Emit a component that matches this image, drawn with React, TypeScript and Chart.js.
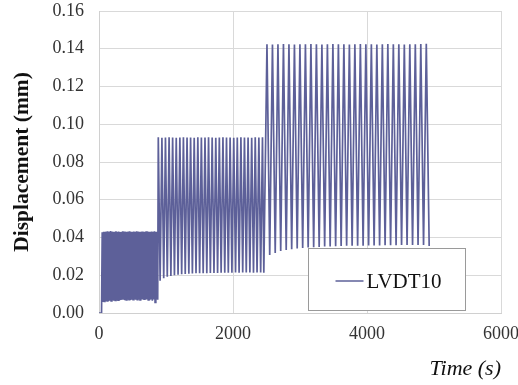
import React, { useEffect, useRef } from "react";
import { Chart, registerables } from "chart.js";

Chart.register(...registerables);

// Start of record (flat at zero before loading)
const startTimes = [0, 38];
const startValues = [0, 0];

// Stage 1 (small amplitude, dense cycles)
const stage1PeakTimes = [48, 69, 89, 110, 130, 151, 171, 192, 212, 233, 253, 274, 294, 315, 335, 356, 376, 397, 417, 438, 458, 479, 499, 520, 540, 561, 581, 602, 622, 643, 663, 684, 704, 725, 745, 766, 786, 807, 827, 848, 868];
const stage1Peaks = [0.0428, 0.0431, 0.043, 0.0432, 0.0433, 0.0431, 0.0434, 0.0432, 0.043, 0.0431, 0.0433, 0.043, 0.0432, 0.0429, 0.0431, 0.0433, 0.0432, 0.043, 0.0431, 0.0432, 0.0433, 0.0431, 0.043, 0.0432, 0.0431, 0.0433, 0.0432, 0.043, 0.0431, 0.0432, 0.043, 0.0431, 0.0433, 0.0432, 0.0431, 0.043, 0.0432, 0.0431, 0.0433, 0.0431, 0.043];
const stage1TroughTimes = [58, 79, 99, 120, 140, 161, 181, 202, 222, 243, 263, 284, 304, 325, 345, 366, 386, 407, 427, 448, 468, 489, 509, 530, 550, 571, 591, 612, 632, 653, 673, 694, 714, 735, 755, 776, 796, 817, 837, 858, 876];
const stage1Troughs = [0.0058, 0.0062, 0.0063, 0.0064, 0.0062, 0.0065, 0.0064, 0.0066, 0.0065, 0.0067, 0.0066, 0.0068, 0.0066, 0.0069, 0.0075, 0.007, 0.0068, 0.0069, 0.007, 0.0071, 0.0069, 0.007, 0.0071, 0.0072, 0.007, 0.0071, 0.0072, 0.007, 0.0071, 0.0072, 0.0073, 0.0071, 0.0072, 0.007, 0.0068, 0.0072, 0.0065, 0.0071, 0.0056, 0.0072, 0.007];

// Stage 2
const stage2PeakTimes = [885, 939, 992, 1046, 1099, 1153, 1207, 1260, 1314, 1367, 1421, 1475, 1528, 1582, 1635, 1689, 1743, 1796, 1850, 1903, 1957, 2011, 2064, 2118, 2171, 2225, 2279, 2332, 2386, 2440];
const stage2Peaks = [0.0931, 0.0929, 0.093, 0.0931, 0.093, 0.0929, 0.093, 0.0931, 0.093, 0.093, 0.0929, 0.0931, 0.093, 0.093, 0.0931, 0.093, 0.0929, 0.093, 0.0931, 0.093, 0.093, 0.0929, 0.093, 0.0931, 0.093, 0.093, 0.0929, 0.0931, 0.093, 0.0931];
const stage2TroughTimes = [912, 966, 1019, 1073, 1126, 1180, 1234, 1287, 1341, 1394, 1448, 1502, 1555, 1609, 1662, 1716, 1770, 1823, 1877, 1930, 1984, 2038, 2091, 2145, 2198, 2252, 2306, 2359, 2413, 2460];
const stage2Troughs = [0.0171, 0.0184, 0.0192, 0.0196, 0.02, 0.0203, 0.0205, 0.0207, 0.0208, 0.0209, 0.021, 0.021, 0.0211, 0.0211, 0.0212, 0.0212, 0.0212, 0.0213, 0.0213, 0.0213, 0.0213, 0.0214, 0.0213, 0.0214, 0.0214, 0.0214, 0.0213, 0.0214, 0.0214, 0.0213];

// Stage 3
const stage3PeakTimes = [2507, 2589, 2671, 2753, 2835, 2917, 2999, 3081, 3163, 3245, 3327, 3409, 3491, 3573, 3655, 3737, 3819, 3901, 3983, 4065, 4147, 4229, 4311, 4393, 4475, 4557, 4639, 4721, 4803, 4885];
const stage3Peaks = [0.1424, 0.1423, 0.1424, 0.1425, 0.1424, 0.1423, 0.1424, 0.1424, 0.1425, 0.1424, 0.1423, 0.1424, 0.1425, 0.1424, 0.1424, 0.1423, 0.1424, 0.1425, 0.1424, 0.1424, 0.1423, 0.1424, 0.1425, 0.1424, 0.1424, 0.1423, 0.1424, 0.1424, 0.1425, 0.1426];
const stage3TroughTimes = [2548, 2630, 2712, 2794, 2876, 2958, 3040, 3122, 3204, 3286, 3368, 3450, 3532, 3614, 3696, 3778, 3860, 3942, 4024, 4106, 4188, 4270, 4352, 4434, 4516, 4598, 4680, 4762, 4844, 4928];
const stage3Troughs = [0.0307, 0.0318, 0.0328, 0.0334, 0.0338, 0.0342, 0.0345, 0.0347, 0.0349, 0.035, 0.0352, 0.0353, 0.0354, 0.0355, 0.0356, 0.0356, 0.0357, 0.0357, 0.0358, 0.0358, 0.0358, 0.0359, 0.0359, 0.0359, 0.036, 0.036, 0.036, 0.036, 0.036, 0.0355];

const xTicks = [0, 2000, 4000, 6000];
const yTicks = [0, 0.02, 0.04, 0.06, 0.08, 0.1, 0.12, 0.14, 0.16];
const seriesLabel = "LVDT10";

const LINE_COLOR = "#5d6099";
const SERIF = "'Liberation Serif', 'Times New Roman', serif";

function buildPoints() {
  const pts: { x: number; y: number }[] = [];
  const add = (ts: number[], vs: number[]) => ts.forEach((t, i) => pts.push({ x: t, y: vs[i] }));
  add(startTimes, startValues);
  add(stage1PeakTimes, stage1Peaks);
  add(stage1TroughTimes, stage1Troughs);
  add(stage2PeakTimes, stage2Peaks);
  add(stage2TroughTimes, stage2Troughs);
  add(stage3PeakTimes, stage3Peaks);
  add(stage3TroughTimes, stage3Troughs);
  pts.sort((a, b) => a.x - b.x);
  return pts;
}

const legendBoxPlugin = {
  id: "legendBox",
  afterDatasetsDraw(chart: any) {
    const { ctx, chartArea } = chart;
    const bx = chartArea.left + 209.5;
    const by = chartArea.top + 237.5;
    const bw = 157;
    const bh = 62;
    ctx.save();
    ctx.fillStyle = "#ffffff";
    ctx.fillRect(bx, by, bw, bh);
    ctx.strokeStyle = "#9a9a9a";
    ctx.lineWidth = 1;
    ctx.strokeRect(bx, by, bw, bh);
    ctx.strokeStyle = LINE_COLOR;
    ctx.lineWidth = 1.5;
    ctx.beginPath();
    ctx.moveTo(bx + 27, by + 32.5);
    ctx.lineTo(bx + 55, by + 32.5);
    ctx.stroke();
    ctx.fillStyle = "#111111";
    ctx.font = `21px ${SERIF}`;
    ctx.textBaseline = "alphabetic";
    ctx.textAlign = "left";
    ctx.fillText(seriesLabel, bx + 58, by + 39);
    ctx.restore();
  },
};

export default function App() {
  const canvasRef = useRef<HTMLCanvasElement | null>(null);

  useEffect(() => {
    if (!canvasRef.current) return;
    const chart = new Chart(canvasRef.current, {
      type: "line",
      data: {
        datasets: [
          {
            label: seriesLabel,
            data: buildPoints(),
            borderColor: LINE_COLOR,
            borderWidth: 1.7,
            pointRadius: 0,
            tension: 0,
            fill: false,
          },
        ],
      },
      options: {
        responsive: false,
        animation: false,
        layout: { padding: { top: 11, right: 17, left: 0, bottom: 0 } },
        plugins: {
          legend: { display: false },
          tooltip: { enabled: false },
        },
        scales: {
          x: {
            type: "linear",
            min: 0,
            max: 6000,
            afterBuildTicks: (scale: any) => {
              scale.ticks = xTicks.map((v) => ({ value: v }));
            },
            afterFit: (scale: any) => {
              scale.height = 72;
              scale.paddingLeft = 0;
              scale.paddingRight = 0;
            },
            ticks: {
              padding: 10,
              color: "#333333",
              font: { family: SERIF, size: 18 },
              maxRotation: 0,
              callback: (v: any) => String(v),
            },
            grid: { color: "#d9d9d9", drawTicks: false, lineWidth: 1 },
            border: { color: "#d0d0d0" },
            title: {
              display: true,
              text: "Time (s)",
              align: "end",
              color: "#111111",
              font: { family: SERIF, size: 22, style: "italic" },
              padding: { top: 0, bottom: 3 },
            },
          },
          y: {
            type: "linear",
            min: 0,
            max: 0.16,
            afterBuildTicks: (scale: any) => {
              scale.ticks = yTicks.map((v) => ({ value: v }));
            },
            afterFit: (scale: any) => {
              scale.width = 99;
              scale.paddingTop = 0;
              scale.paddingBottom = 0;
            },
            ticks: {
              padding: 15,
              color: "#333333",
              font: { family: SERIF, size: 18 },
              callback: (v: any) => Number(v).toFixed(2),
            },
            grid: { color: "#d9d9d9", drawTicks: false, lineWidth: 1 },
            border: { color: "#d0d0d0" },
            title: {
              display: true,
              text: "Displacement (mm)",
              color: "#111111",
              font: { family: SERIF, size: 21.5, weight: "bold" },
              padding: { top: 10, bottom: 0 },
            },
          },
        },
      },
      plugins: [legendBoxPlugin],
    } as any);
    return () => chart.destroy();
  }, []);

  return (
    <div style={{ position: "absolute", left: 0, top: 0, width: 518, height: 385, background: "#ffffff" }}>
      <canvas ref={canvasRef} width={518} height={385} style={{ display: "block" }} />
    </div>
  );
}
